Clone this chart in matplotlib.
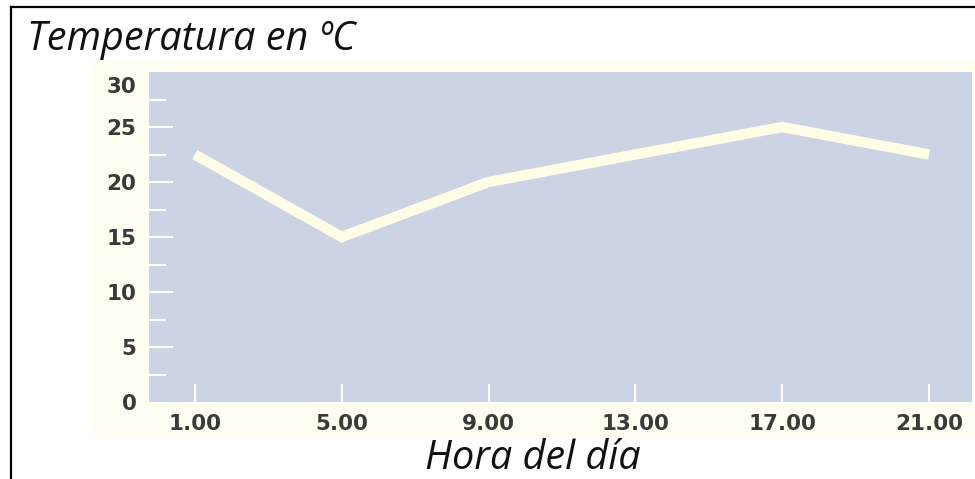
import numpy as np
import matplotlib
matplotlib.use("Agg")
import matplotlib.pyplot as plt
import matplotlib.transforms as mtransforms
from matplotlib.patches import Rectangle
from matplotlib.lines import Line2D
from matplotlib.ticker import MultipleLocator

# data
horas = [1, 5, 9, 13, 17, 21]
hora_labels = ["1.00", "5.00", "9.00", "13.00", "17.00", "21.00"]
temperatura = [22.5, 15, 20, 22.5, 25, 22.5]
y_ticks = [0, 5, 10, 15, 20, 25, 30]

W, H = 975, 479
fig = plt.figure(figsize=(W / 100, H / 100), dpi=100)
fig.patch.set_facecolor("white")

# cream panel behind the plot
fig.patches.append(Rectangle((95 / W, 1 - 438 / H), (W - 95) / W, (438 - 60) / H,
                             transform=fig.transFigure, facecolor="#fffdf0",
                             edgecolor="none", zorder=-5))
# black frame (left and top)
fig.lines.append(Line2D([11 / W, 11 / W], [0, 1 - 7 / H], transform=fig.transFigure,
                        color="black", lw=1.6))
fig.lines.append(Line2D([11 / W, 1], [1 - 7 / H, 1 - 7 / H], transform=fig.transFigure,
                        color="black", lw=1.6))

ax = fig.add_axes([149 / W, 1 - 402 / H, (972 - 149) / W, (402 - 72) / H])
ax.set_zorder(2)
ax.set_facecolor("#ccd4e4")
for s in ax.spines.values():
    s.set_visible(False)

ax.plot(horas, temperatura, color="#fffde6", lw=7.5, solid_capstyle="butt",
        solid_joinstyle="miter", zorder=3)

ax.set_xlim(-0.25, 22.17)
ax.set_ylim(0, 30)

ax.set_xticks(horas)
ax.set_xticklabels(hora_labels)
ax.set_yticks(y_ticks)
ax.set_yticklabels([str(v) for v in y_ticks])
ax.yaxis.set_minor_locator(MultipleLocator(2.5))

ax.tick_params(axis="y", which="major", direction="in", length=17, width=1.5,
               color="white", pad=9)
ax.tick_params(axis="y", which="minor", direction="in", length=12, width=1.5,
               color="white")
ax.tick_params(axis="x", which="major", direction="in", length=13, width=1.5,
               color="white", pad=9)
ax.tick_params(axis="x", which="minor", bottom=False)

for lab in ax.get_xticklabels() + ax.get_yticklabels():
    lab.set_fontfamily("DejaVu Sans")
    lab.set_fontweight("bold")
    lab.set_fontsize(15.5)
    lab.set_color("#3a3a3a")

# no tick marks at the ends of the y axis, top label sits a bit lower
yt = ax.yaxis.get_major_ticks()
yt[0].tick1line.set_visible(False)
yt[-1].tick1line.set_visible(False)
top_lab = yt[-1].label1
top_lab.set_verticalalignment("top")
top_lab.set_transform(top_lab.get_transform() +
                      mtransforms.ScaledTranslation(0, -5 / 100, fig.dpi_scale_trans))

fig.text(27 / W, 1 - 50 / H, "Temperatura en ºC", fontfamily="Open Sans",
         style="italic", fontsize=28.5, color="#111111", va="baseline", ha="left")
fig.text(533 / W, 1 - 469 / H, "Hora del día", fontfamily="Open Sans",
         style="italic", fontsize=28.5, color="#111111", va="baseline", ha="center")

fig.savefig("out.png", dpi=100)
